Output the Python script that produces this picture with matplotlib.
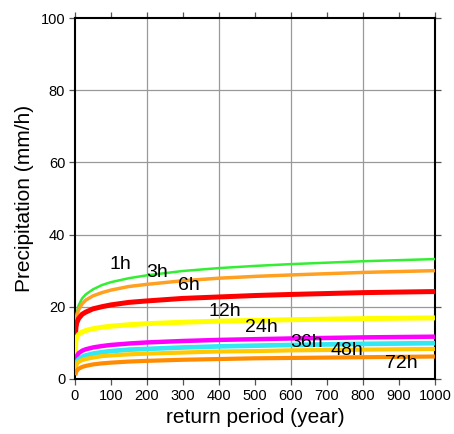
import matplotlib
matplotlib.use("Agg")
import matplotlib.pyplot as plt
from matplotlib import font_manager
import numpy as np

# return periods (years) and precipitation intensity (mm/h)
return_period = [1.1, 2, 3, 5, 10, 20, 30, 50, 75, 100, 150, 200, 300, 400, 500, 600, 800, 1000]

p_1h = [14.5, 16.0, 16.7, 18.2, 20.3, 22.3, 23.4, 24.8, 26.0, 26.8, 27.9, 28.7, 29.9, 30.7, 31.3, 31.8, 32.6, 33.2]
p_3h = [13.5, 14.7, 15.9, 17.3, 19.1, 20.8, 21.8, 23.0, 23.9, 24.6, 25.6, 26.2, 27.2, 27.9, 28.4, 28.8, 29.5, 30.0]
p_6h = [10.0, 13.0, 14.4, 15.5, 16.7, 17.9, 18.5, 19.4, 20.0, 20.5, 21.2, 21.6, 22.3, 22.7, 23.1, 23.4, 23.9, 24.2]
p_12h = [6.5, 9.5, 10.8, 11.5, 12.3, 13.0, 13.4, 13.9, 14.3, 14.6, 15.0, 15.3, 15.7, 16.0, 16.2, 16.4, 16.7, 16.9]
p_24h = [4.5, 5.2, 5.7, 6.3, 7.1, 7.8, 8.2, 8.7, 9.1, 9.4, 9.8, 10.1, 10.5, 10.8, 11.0, 11.2, 11.5, 11.7]
p_36h = [3.0, 3.6, 4.1, 4.7, 5.4, 6.1, 6.5, 7.0, 7.4, 7.7, 8.1, 8.3, 8.7, 9.0, 9.2, 9.4, 9.7, 9.9]
p_48h = [2.5, 3.2, 3.6, 4.1, 4.7, 5.2, 5.5, 5.9, 6.3, 6.5, 6.8, 7.0, 7.3, 7.6, 7.7, 7.9, 8.1, 8.3]
p_72h = [1.0, 1.4, 1.8, 2.2, 2.8, 3.3, 3.6, 4.0, 4.3, 4.5, 4.8, 5.0, 5.3, 5.5, 5.7, 5.8, 6.0, 6.2]

durations = ["1h", "3h", "6h", "12h", "24h", "36h", "48h", "72h"]
series = [p_1h, p_3h, p_6h, p_12h, p_24h, p_36h, p_48h, p_72h]
colors = ["#33ee33", "#ffa020", "#ff0000", "#ffff00", "#ff00ff", "#33e8f2", "#ffc800", "#ff8c00"]
widths = [1.8, 2.5, 3.6, 3.6, 3.2, 3.4, 3.0, 3.0]

# label anchor points (year, mm/h)
label_x = [125, 228, 317, 417, 519, 644, 756, 908]
label_y = [31.6, 29.4, 25.8, 18.6, 14.1, 10.0, 8.0, 4.4]

plt.rcParams["font.family"] = ["Liberation Sans", "DejaVu Sans"]

# a narrow face for the curve labels if one is around
names = {f.name for f in font_manager.fontManager.ttflist}
label_family = ["Liberation Sans", "DejaVu Sans"]
for cand in ["Liberation Sans Narrow", "Arial Narrow", "DejaVu Sans Condensed"]:
    if cand in names:
        label_family = [cand] + label_family
        break

fig = plt.figure(figsize=(4.54, 4.34), dpi=100)
ax = fig.add_axes([0.165, 0.127, 0.793, 0.8315])

for vals, c, lw in zip(series, colors, widths):
    ax.plot(return_period, vals, color=c, lw=lw, solid_capstyle="butt", zorder=3)

for name, x, y in zip(durations, label_x, label_y):
    ax.text(x, y, name, ha="center", va="center", fontsize=14,
            family=label_family, zorder=4)

ax.set_xlim(0, 1000)
ax.set_ylim(0, 100)
ax.set_xticks(np.arange(0, 1001, 100))
ax.set_yticks(np.arange(0, 101, 20))
ax.grid(False)
for gx in range(200, 1000, 200):
    ax.axvline(gx, color="#999999", lw=0.9, zorder=1)
for gy in range(20, 100, 20):
    ax.axhline(gy, color="#999999", lw=0.9, zorder=1)

ax.tick_params(direction="out", length=4, width=0.9, color="#555555",
               labelsize=10.5, top=True, right=True, pad=3)
for s in ax.spines.values():
    s.set_linewidth(1.5)
    s.set_color("black")

ax.set_xlabel("return period (year)", fontsize=15, labelpad=4)
ax.set_ylabel("Precipitation (mm/h)", fontsize=15, labelpad=5)

fig.savefig("out.png", dpi=100)
